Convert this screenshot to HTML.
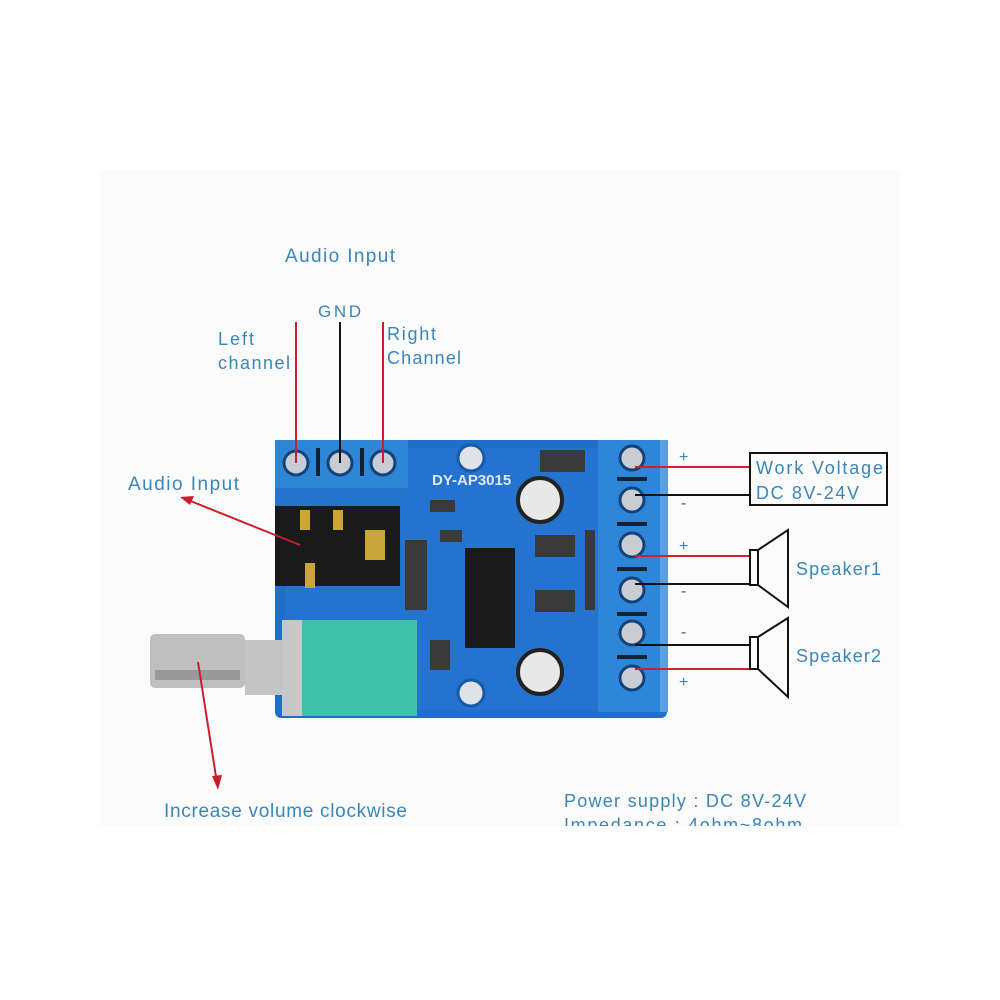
<!DOCTYPE html>
<html><head><style>
html,body{margin:0;padding:0;background:#fff;}
svg{display:block}
text{font-family:"Liberation Sans",sans-serif;fill:#3a86b8;}
</style></head><body>
<svg width="1000" height="1000" viewBox="0 0 1000 1000">
<rect width="1000" height="1000" fill="#fff"/>
<rect x="100" y="170" width="800" height="660" fill="#fbfbfb"/>
<rect x="275" y="440" width="392" height="278" rx="6" fill="#1f6fc8"/>
<rect x="285" y="448" width="372" height="262" fill="#2a7ad6" opacity="0.5"/>
<circle cx="471" cy="458" r="13" fill="#dfe3e8" stroke="#165aa8" stroke-width="3"/>
<circle cx="471" cy="693" r="13" fill="#dfe3e8" stroke="#165aa8" stroke-width="3"/>
<text x="432" y="485" font-size="15" style="fill:#dfe8f4" font-weight="bold">DY-AP3015</text>
<rect x="275" y="440" width="133" height="66" fill="#2f86d6"/>
<rect x="275" y="488" width="133" height="18" fill="#2474cc"/>
<g fill="#c9ccd2" stroke="#14437a" stroke-width="3">
<circle cx="296" cy="463" r="12"/><circle cx="340" cy="463" r="12"/><circle cx="383" cy="463" r="12"/></g>
<rect x="316" y="448" width="4" height="28" fill="#123"/><rect x="360" y="448" width="4" height="28" fill="#123"/>
<rect x="275" y="506" width="125" height="80" fill="#1a1a1a"/>
<rect x="300" y="510" width="10" height="20" fill="#c9a53a"/><rect x="333" y="510" width="10" height="20" fill="#c9a53a"/>
<rect x="365" y="530" width="20" height="30" fill="#c9a53a"/><rect x="305" y="563" width="10" height="25" fill="#c9a53a"/>
<rect x="282" y="620" width="20" height="96" fill="#c8c8c8"/>
<rect x="302" y="620" width="115" height="96" fill="#40c2a8"/>
<rect x="245" y="640" width="38" height="55" fill="#c4c4c4"/>
<rect x="150" y="634" width="95" height="54" rx="5" fill="#bfbfbf"/>
<rect x="155" y="670" width="85" height="10" fill="#999"/>
<rect x="465" y="548" width="50" height="100" fill="#1a1a1a"/>
<g fill="#3a3a3a"><rect x="430" y="500" width="25" height="12"/><rect x="440" y="530" width="22" height="12"/><rect x="405" y="540" width="22" height="70"/><rect x="535" y="535" width="40" height="22"/><rect x="535" y="590" width="40" height="22"/><rect x="585" y="530" width="10" height="80"/><rect x="430" y="640" width="20" height="30"/><rect x="540" y="450" width="45" height="22"/></g>
<circle cx="540" cy="500" r="22" fill="#e8e8e8" stroke="#222" stroke-width="4"/>
<circle cx="540" cy="672" r="22" fill="#e8e8e8" stroke="#222" stroke-width="4"/>
<rect x="598" y="440" width="70" height="272" fill="#2e86d8"/>
<rect x="660" y="440" width="8" height="272" fill="#5aa0e0"/>
<g fill="#c9ccd2" stroke="#14437a" stroke-width="3">
<circle cx="632" cy="458" r="12"/><circle cx="632" cy="500" r="12"/><circle cx="632" cy="545" r="12"/><circle cx="632" cy="590" r="12"/><circle cx="632" cy="633" r="12"/><circle cx="632" cy="678" r="12"/></g>
<g fill="#123"><rect x="617" y="477" width="30" height="4"/><rect x="617" y="522" width="30" height="4"/><rect x="617" y="567" width="30" height="4"/><rect x="617" y="612" width="30" height="4"/><rect x="617" y="655" width="30" height="4"/></g>
<line x1="296" y1="322" x2="296" y2="463" stroke="#c8202a" stroke-width="2"/>
<line x1="340" y1="322" x2="340" y2="463" stroke="#111" stroke-width="2"/>
<line x1="383" y1="322" x2="383" y2="463" stroke="#c8202a" stroke-width="2"/>
<g stroke-width="2" fill="none">
<line x1="635" y1="467" x2="750" y2="467" stroke="#d02030"/>
<line x1="635" y1="495" x2="750" y2="495" stroke="#111"/>
<line x1="635" y1="556" x2="750" y2="556" stroke="#d02030"/>
<line x1="635" y1="584" x2="750" y2="584" stroke="#111"/>
<line x1="635" y1="645" x2="750" y2="645" stroke="#111"/>
<line x1="635" y1="669" x2="750" y2="669" stroke="#d02030"/>
<rect x="750" y="453" width="137" height="52" stroke="#111"/>
<rect x="750" y="550" width="8" height="35" stroke="#111"/>
<polygon points="758,550 788,530 788,607 758,585" stroke="#111"/>
<rect x="750" y="637" width="8" height="32" stroke="#111"/>
<polygon points="758,637 788,618 788,697 758,669" stroke="#111"/>
</g>
<g font-size="16" style="fill:#c8202a"><text x="679" y="462">+</text><text x="681" y="508" style="fill:#555">-</text><text x="679" y="551">+</text><text x="681" y="596" style="fill:#555">-</text><text x="681" y="637" style="fill:#555">-</text><text x="679" y="687">+</text></g>
<g stroke="#c8202a" stroke-width="2"><line x1="188" y1="500" x2="300" y2="545"/><line x1="198" y1="662" x2="217" y2="783"/></g>
<polygon points="180,497 194,496 190,505" fill="#c8202a"/>
<polygon points="218,790 212,776 222,775" fill="#c8202a"/>
<text x="285" y="262" font-size="19" textLength="110">Audio Input</text>
<text x="318" y="317" font-size="17" textLength="43">GND</text>
<text x="218" y="345" font-size="18" textLength="36">Left</text>
<text x="218" y="369" font-size="18" textLength="72">channel</text>
<text x="387" y="340" font-size="18" textLength="49">Right</text>
<text x="387" y="364" font-size="18" textLength="74">Channel</text>
<text x="128" y="490" font-size="19" textLength="111">Audio Input</text>
<text x="756" y="474" font-size="18" textLength="127">Work Voltage</text>
<text x="756" y="499" font-size="18" textLength="103">DC 8V-24V</text>
<text x="796" y="575" font-size="18" textLength="85">Speaker1</text>
<text x="796" y="662" font-size="18" textLength="85">Speaker2</text>
<text x="164" y="817" font-size="19" textLength="243">Increase volume clockwise</text>
<text x="564" y="807" font-size="18" textLength="242">Power supply : DC 8V-24V</text>
<text x="564" y="831" font-size="18" textLength="238">Impedance : 4ohm~8ohm</text>
<rect x="0" y="826" width="1000" height="174" fill="#fff"/>
</svg>
</body></html>
